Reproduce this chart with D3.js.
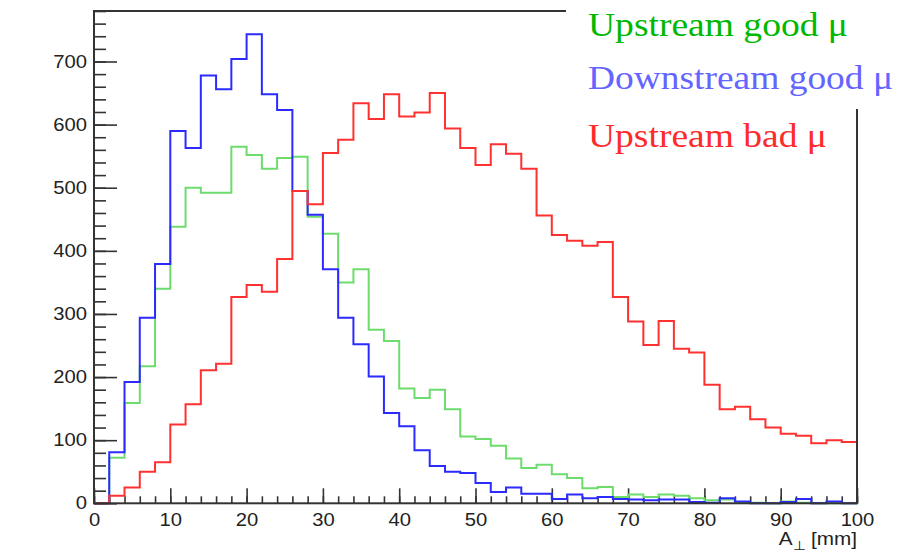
<!DOCTYPE html>
<html>
<head>
<meta charset="utf-8">
<script src="https://cdn.jsdelivr.net/npm/d3@7"></script>
<style>
  body { margin: 0; background: #fff; }
  svg { display: block; }
  .tick text { font-family: "Liberation Sans", Arial, sans-serif; font-size: 17.6px; fill: #222; }
  .tick line { stroke: #333; stroke-width: 1.6; }
  .legend { font-family: "Liberation Serif", "Times New Roman", serif; font-size: 33px; }
</style>
</head>
<body>
<svg width="899" height="557"></svg>
<script>
// bin edges 0..100, 2 mm wide, 50 bins
const binEdges = d3.range(0, 101, 2);

// Upstream good mu (green)
const upGood = [0, 72, 159, 217, 340, 438, 500, 492, 492, 565,
  552, 530, 547, 549, 454, 427, 350, 371, 275, 257,
  182, 167, 180, 149, 106, 102, 91, 71, 56, 61,
  46, 40, 24, 26, 10, 14, 10, 14, 12, 8,
  5, 6, 1, 1, 0, 3, 1, 0, 0, 0];

// Downstream good mu (blue)
const downGood = [0, 81, 192, 294, 379, 590, 563, 678, 656, 704,
  743, 648, 623, 495, 457, 371, 294, 252, 201, 143,
  122, 84, 59, 50, 48, 32, 18, 25, 15, 15,
  7, 14, 8, 10, 7, 6, 5, 6, 6, 2,
  1, 8, 3, 0, 0, 2, 7, 0, 3, 0];

// Upstream bad mu (red)
const upBad = [0, 12, 25, 50, 65, 125, 157, 211, 221, 327,
  346, 335, 387, 495, 474, 555, 576, 634, 609, 648,
  613, 619, 650, 594, 563, 536, 569, 554, 530, 456,
  425, 416, 408, 414, 327, 288, 251, 289, 245, 239,
  188, 149, 153, 133, 120, 110, 107, 95, 100, 97];

const xTicks = d3.range(0, 101, 10);
const yTicks = d3.range(0, 701, 100);

const series = [
  {name: "Upstream good \u03bc", values: upGood, line: "#6ddc6d", text: "#00b800"},
  {name: "Downstream good \u03bc", values: downGood, line: "#2b2bff", text: "#6464ff"},
  {name: "Upstream bad \u03bc", values: upBad, line: "#ff3030", text: "#ff2a2a"}
];

const svg = d3.select("svg");
const x = d3.scaleLinear().domain([0, 100]).range([94, 857]);
const y = d3.scaleLinear().domain([0, 780]).range([503.3, 11]);

// stretch the text a bit wider like in the picture
const stretch = "scale(1.15,1)";

// minor ticks
svg.append("g")
  .attr("transform", `translate(${x(0)},0)`)
  .call(d3.axisLeft(y).tickValues(d3.range(0, 781, 20)).tickSize(-12).tickFormat(""))
  .call(g => g.select(".domain").remove());
svg.append("g")
  .attr("transform", `translate(0,${y(0)})`)
  .call(d3.axisBottom(x).tickValues(d3.range(0, 101, 2)).tickSize(-7).tickFormat(""))
  .call(g => g.select(".domain").remove());

// major ticks + labels
svg.append("g")
  .attr("transform", `translate(${x(0)},0)`)
  .call(d3.axisLeft(y).tickValues(yTicks).tickSizeInner(-23).tickSizeOuter(0).tickPadding(6))
  .call(g => g.select(".domain").remove())
  .selectAll("text").attr("transform", stretch);
svg.append("g")
  .attr("transform", `translate(0,${y(0)})`)
  .call(d3.axisBottom(x).tickValues(xTicks).tickSizeInner(-15).tickSizeOuter(0).tickPadding(10))
  .call(g => g.select(".domain").remove())
  .selectAll("text").attr("transform", stretch);

// histograms as steps
const step = d3.line()
  .x(d => x(d[0]))
  .y(d => y(d[1]))
  .curve(d3.curveStepAfter);

series.forEach(s => {
  const pts = s.values.map((v, i) => [binEdges[i], v]);
  pts.push([100, s.values[s.values.length - 1]]);
  svg.append("path")
    .attr("d", step(pts))
    .attr("fill", "none")
    .attr("stroke", s.line)
    .attr("stroke-width", 2);
});

// frame
svg.append("rect")
  .attr("x", x(0)).attr("y", y(780))
  .attr("width", x(100) - x(0)).attr("height", y(0) - y(780))
  .attr("fill", "none").attr("stroke", "#333").attr("stroke-width", 2);

// legend sits on a white patch over the top right corner
svg.append("rect")
  .attr("x", 566).attr("y", 0).attr("width", 333).attr("height", 109)
  .attr("fill", "#fff");

const legendY = [36, 89, 147];
const legendW = [260, 305, 239];
series.forEach((s, i) => {
  svg.append("text")
    .attr("class", "legend")
    .attr("transform", `translate(588,${legendY[i]})`)
    .attr("textLength", legendW[i])
    .attr("lengthAdjust", "spacingAndGlyphs")
    .attr("fill", s.text)
    .text(s.name);
});

// x title
const title = svg.append("text")
  .attr("transform", `translate(857,545) ${stretch}`)
  .attr("text-anchor", "end")
  .style("font-family", "'Liberation Sans', Arial, sans-serif")
  .style("font-size", "18px")
  .attr("fill", "#222");
title.append("tspan").text("A");
title.append("tspan").attr("dy", 5).style("font-size", "13px").text("\u22a5");
title.append("tspan").attr("dy", -5).text(" [mm]");
</script>
</body>
</html>
